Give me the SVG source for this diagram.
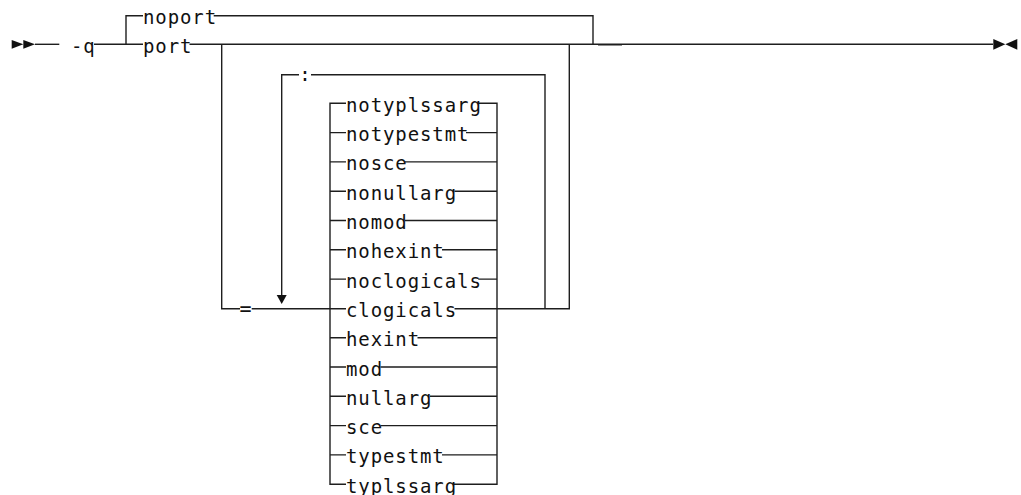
<svg xmlns="http://www.w3.org/2000/svg" width="1021" height="495" viewBox="0 0 1021 495">
<style>
  .bg { fill: #ffffff; }
  .ln { stroke: #1e1e1e; stroke-width: 1.4; fill: none; }
  .ar { fill: #111111; stroke: none; }
  .t { font-family: "DejaVu Sans Mono", "Liberation Mono", monospace; font-size: 19px; letter-spacing: 0.9px; fill: #111111; }
</style>
<rect class="bg" x="0" y="0" width="1021" height="495"/>
<g id="connectors">
  <polygon class="ar" points="11.7,40 23.3,44.3 11.7,48.7"/>
  <polygon class="ar" points="23.3,40 35,44.3 23.3,48.7"/>
  <path class="ln" d="M35,44.3 H59.3"/>
  <path class="ln" d="M94,44.3 H143"/>
  <path class="ln" d="M126,44.3 V15.7 H143"/>
  <path class="ln" d="M213.7,15.7 H593 V44.3"/>
  <path class="ln" d="M189.5,44.3 H993"/>
  <path class="ln" d="M598,45 H622" style="stroke-width:1"/>
  <polygon class="ar" points="993.3,39 1005.3,44.3 993.3,49.7"/>
  <polygon class="ar" points="1017.3,39 1005.3,44.3 1017.3,49.7"/>
  <path class="ln" d="M221.7,44.3 V308.7 H240"/>
  <path class="ln" d="M251.7,308.7 H346"/>
  <path class="ln" d="M497,308.7 H569.3 V44.3"/>
  <path class="ln" d="M545,308.7 V74.7 H311"/>
  <path class="ln" d="M299,74.7 H281.7 V295"/>
  <polygon class="ar" points="276.7,295 286.7,295 281.7,304"/>
  <path class="ln" d="M346,103.3 H330 V484.2 H346"/>
  <path class="ln" d="M478.3,103.3 H497 V484.2 H453.7"/>
  <path class="ln" d="M330,132.6 H346 M466,132.6 H497"/>
  <path class="ln" d="M330,161.9 H346 M405,161.9 H497"/>
  <path class="ln" d="M330,191.2 H346 M454.5,191.2 H497"/>
  <path class="ln" d="M330,220.5 H346 M405,220.5 H497"/>
  <path class="ln" d="M330,249.8 H346 M442,249.8 H497"/>
  <path class="ln" d="M330,279.1 H346 M478.3,279.1 H497"/>
  <path class="ln" d="M454.5,308.7 H497"/>
  <path class="ln" d="M330,337.7 H346 M417.5,337.7 H497"/>
  <path class="ln" d="M330,367 H346 M380.5,367 H497"/>
  <path class="ln" d="M330,396.3 H346 M430,396.3 H497"/>
  <path class="ln" d="M330,425.6 H346 M380.5,425.6 H497"/>
  <path class="ln" d="M330,454.9 H346 M442,454.9 H497"/>
</g>
<g id="node-q"><text class="t" x="71" y="52.8">-q</text></g>
<g id="node-noport"><text class="t" x="143" y="24.2">noport</text></g>
<g id="node-port"><text class="t" x="143" y="52.8">port</text></g>
<g id="node-eq"><text class="t" x="239.5" y="315" style="font-size:20px;letter-spacing:0">=</text></g>
<g id="node-colon"><text class="t" x="305" y="81" text-anchor="middle" style="letter-spacing:0">:</text></g>
<g id="node-notyplssarg"><text class="t" x="346" y="111.8">notyplssarg</text></g>
<g id="node-notypestmt"><text class="t" x="346" y="141.1">notypestmt</text></g>
<g id="node-nosce"><text class="t" x="346" y="170.4">nosce</text></g>
<g id="node-nonullarg"><text class="t" x="346" y="199.7">nonullarg</text></g>
<g id="node-nomod"><text class="t" x="346" y="229">nomod</text></g>
<g id="node-nohexint"><text class="t" x="346" y="258.3">nohexint</text></g>
<g id="node-noclogicals"><text class="t" x="346" y="287.6">noclogicals</text></g>
<g id="node-clogicals"><text class="t" x="346" y="317.2">clogicals</text></g>
<g id="node-hexint"><text class="t" x="346" y="346.2">hexint</text></g>
<g id="node-mod"><text class="t" x="346" y="375.5">mod</text></g>
<g id="node-nullarg"><text class="t" x="346" y="404.8">nullarg</text></g>
<g id="node-sce"><text class="t" x="346" y="434.1">sce</text></g>
<g id="node-typestmt"><text class="t" x="346" y="463.4">typestmt</text></g>
<g id="node-typlssarg"><text class="t" x="346" y="492.7">typlssarg</text></g>
</svg>
